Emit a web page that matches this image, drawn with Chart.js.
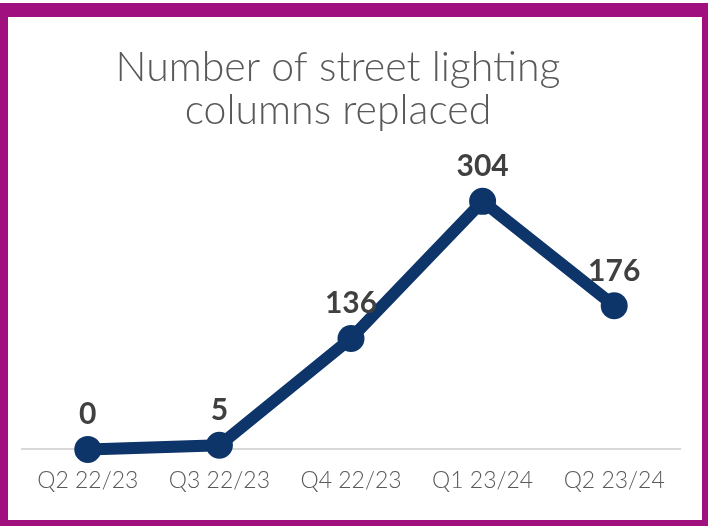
<!DOCTYPE html>
<html>
<head>
<meta charset="utf-8">
<script src="https://cdn.jsdelivr.net/npm/chart.js@4.4.1/dist/chart.umd.min.js"></script>
<style>
  html, body { margin: 0; padding: 0; background: #ffffff; }
  #frame {
    position: absolute; left: 0; top: 3px; width: 708px; height: 523px;
    box-sizing: border-box; border-style: solid; border-color: #a0117f;
    border-width: 14px 6px 6px 8px;
  }
  #c { position: absolute; left: 0; top: 0; }
</style>
</head>
<body>
<div id="frame"></div>
<canvas id="c" width="708" height="526"></canvas>
<script>
// Quarterly count of street lighting columns replaced
const quarters = ['Q2 22/23', 'Q3 22/23', 'Q4 22/23', 'Q1 23/24', 'Q2 23/24'];
const columnsReplaced = [0, 5, 136, 304, 176];
const titleLines = ['Number of street lighting', 'columns replaced'];

const NAVY = '#0e356a';

// Two-line title, drawn a little left of the plot centre
const titlePlugin = {
  id: 'chartHeading',
  afterDraw(chart) {
    const ctx = chart.ctx;
    ctx.save();
    ctx.fillStyle = '#595959';
    ctx.font = '300 41px Lato, "Open Sans", sans-serif';
    ctx.textAlign = 'center';
    ctx.textBaseline = 'alphabetic';
    titleLines.forEach((line, i) => ctx.fillText(line, 338, 81 + i * 43));
    ctx.restore();
  }
};

// Bold value above each point
const valueLabels = {
  id: 'valueLabels',
  afterDatasetsDraw(chart) {
    const ctx = chart.ctx;
    const meta = chart.getDatasetMeta(0);
    const values = chart.data.datasets[0].data;
    ctx.save();
    ctx.fillStyle = '#404040';
    ctx.font = 'bold 30px Lato, "Open Sans", sans-serif';
    ctx.textAlign = 'center';
    ctx.textBaseline = 'alphabetic';
    meta.data.forEach((pt, i) => {
      ctx.fillText(String(values[i]), pt.x, pt.y - 25);
    });
    ctx.restore();
  }
};

new Chart(document.getElementById('c'), {
  type: 'line',
  data: {
    labels: quarters,
    datasets: [{
      data: columnsReplaced,
      borderColor: NAVY,
      backgroundColor: NAVY,
      borderWidth: 12,
      pointRadius: 13.5,
      pointHoverRadius: 13.5,
      pointBackgroundColor: NAVY,
      pointBorderWidth: 0,
      tension: 0,
      clip: false
    }]
  },
  options: {
    responsive: false,
    devicePixelRatio: 1,
    animation: false,
    layout: { padding: { left: 22, right: 28, top: 172, bottom: 23 } },
    plugins: {
      legend: { display: false },
      title: { display: false },
      tooltip: { enabled: false }
    },
    scales: {
      x: {
        offset: true,
        grid: { display: false },
        border: { display: true, color: '#d9d9d9', width: 2 },
        ticks: {
          color: '#595959',
          font: { family: 'Lato, "Open Sans", sans-serif', size: 23, weight: 300 },
          padding: 9,
          maxRotation: 0
        }
      },
      y: {
        display: false,
        min: 0,
        max: 340
      }
    }
  },
  plugins: [titlePlugin, valueLabels]
});
</script>
</body>
</html>
